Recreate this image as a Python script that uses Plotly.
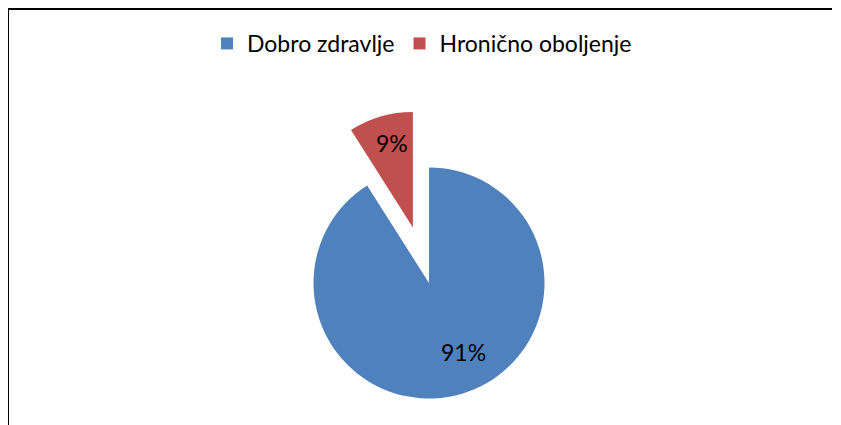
import math
import plotly.graph_objects as go

# ---- data ----
labels = ["Dobro zdravlje", "Hronično oboljenje"]
values = [91, 9]
colors = ["#4F81BD", "#C0504D"]
exploded = [0, 0.5]  # explosion (fraction of radius) per slice

# ---- layout geometry (pixels, figure coordinates) ----
W, H = 841, 425
OFF = 8                                   # page body margin
cx, cy, r = 429.0 - OFF, 283.0 - OFF, 115.5

def dom(x0, y0, rad):
    return dict(x=[(x0 - rad) / W, (x0 + rad) / W],
                y=[1 - (y0 + rad) / H, 1 - (y0 - rad) / H])

def to_paper(px, py):
    return px / W, 1 - py / H

total = sum(values)
# exploded slice centre (offset along its bisector, clockwise from 12 o'clock)
mid = (values[0] + values[1] / 2) / total * 2 * math.pi
bx = cx + math.sin(mid) * exploded[1] * r
by = cy - math.cos(mid) * exploded[1] * r

font_name = "Lato, 'Open Sans', sans-serif"
transparent = "rgba(0,0,0,0)"

fig = go.Figure()

# legend-only trace (degenerate, hidden under main pie)
fig.add_trace(go.Pie(
    labels=labels, values=values, sort=False, direction="clockwise",
    marker=dict(colors=colors), textinfo="none", hoverinfo="skip",
    domain=dom(cx, cy + 60, 0.2), showlegend=True,
))

# main pie (big slice)
fig.add_trace(go.Pie(
    labels=labels, values=values, sort=False, direction="clockwise",
    marker=dict(colors=[colors[0], transparent]),
    textinfo="none", hovertemplate="%{label}: %{percent:.0%}<extra></extra>",
    domain=dom(cx, cy, r), showlegend=False,
))

# exploded slice
fig.add_trace(go.Pie(
    labels=labels, values=values, sort=False, direction="clockwise",
    marker=dict(colors=[transparent, colors[1]]),
    textinfo="none", hovertemplate="%{label}: %{percent:.0%}<extra></extra>",
    domain=dom(bx, by, r), showlegend=False,
))

# percentage labels (best-fit positions: angle clockwise from top, radius fraction)
label_pos = [(153.3, 0.664, cx, cy), (345.9, 0.755, bx, by)]
annotations = []
for v, (ang, frac, ox, oy) in zip(values, label_pos):
    a = math.radians(ang)
    px = ox + math.sin(a) * frac * r
    py = oy - math.cos(a) * frac * r
    xp, yp = to_paper(px, py)
    annotations.append(dict(
        x=xp, y=yp, xref="paper", yref="paper", showarrow=False,
        text=f"{round(v / total * 100)}%", xanchor="center", yanchor="middle",
        font=dict(family=font_name, size=23, color="#000000"),
    ))

lx0, ly0 = to_paper(5 - OFF + 3, 9 - OFF)
lx1, _ = to_paper(832 - OFF, 9 - OFF)
leg_x, leg_y = to_paper(414.0, 43.5 - OFF)

fig.update_layout(
    width=W, height=H,
    margin=dict(l=0, r=0, t=0, b=0),
    paper_bgcolor="white", plot_bgcolor="white",
    font=dict(family=font_name, size=23, color="#000000"),
    legend=dict(orientation="h", x=leg_x, xanchor="center",
                y=leg_y, yanchor="middle",
                font=dict(family=font_name, size=23, color="#000000"),
                itemclick=False, itemdoubleclick=False),
    annotations=annotations,
    shapes=[
        dict(type="line", xref="paper", yref="paper",
             x0=lx0, x1=lx1, y0=ly0, y1=ly0,
             line=dict(color="black", width=2)),
        dict(type="line", xref="paper", yref="paper",
             x0=lx0, x1=lx0, y0=ly0, y1=0,
             line=dict(color="black", width=2)),
    ],
)

fig.write_html("out.html")
